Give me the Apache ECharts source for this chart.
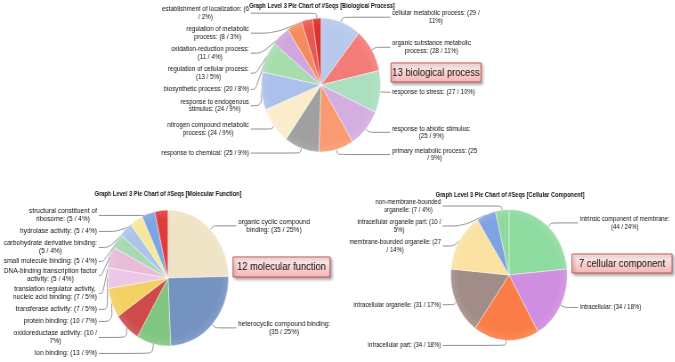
<!DOCTYPE html>
<html>
<head>
<meta charset="utf-8">
<script src="https://cdn.jsdelivr.net/npm/echarts@6/dist/echarts.min.js"></script>
<style>
html, body { margin: 0; padding: 0; background: #fff; overflow: hidden; }
/* The source image is squeezed horizontally (its pies are ellipses), so the
   chart is drawn wider and scaled back to 675px. */
#chart { width: 758px; height: 362px; transform: scaleX(0.89); transform-origin: 0 0; }
</style>
</head>
<body>
<div id="chart"></div>
<script>
// Biological process (top chart), clockwise from 12 o'clock
const bpNames = [
	'cellular metabolic process', 'organic substance metabolic process', 'response to stress',
	'response to abiotic stimulus', 'primary metabolic process', 'response to chemical',
	'nitrogen compound metabolic process', 'response to endogenous stimulus', 'biosynthetic process',
	'regulation of cellular process', 'oxidation-reduction process', 'regulation of metabolic process',
	'establishment of localization'
];
const bpValues = [ 29, 28, 27, 25, 25, 25, 24, 24, 20, 13, 11, 8, 6 ];

// Molecular function (bottom left)
const mfNames = [
	'organic cyclic compound binding', 'heterocyclic compound binding', 'Ion binding',
	'oxidoreductase activity', 'protein binding', 'transferase activity',
	'translation regulator activity, nucleic acid binding', 'DNA-binding transcription factor activity',
	'small molecule binding', 'carbohydrate derivative binding', 'hydrolase activity',
	'structural constituent of ribosome'
];
const mfValues = [ 35, 35, 13, 10, 10, 7, 7, 5, 5, 5, 5, 5 ];

// Cellular component (bottom right)
const ccNames = [
	'intrinsic component of membrane', 'intracellular', 'intracellular part',
	'intracellular organelle', 'membrane-bounded organelle', 'intracellular organelle part',
	'non-membrane-bounded organelle'
];
const ccValues = [ 44, 34, 34, 31, 27, 10, 7 ];

const bpColors = [ '#b7c9ec', '#f47c78', '#acdfc0', '#d4aee0', '#f99a70', '#a0a0a0', '#fbeccb',
	'#abc0ea', '#a7dcad', '#d0a6dc', '#f58a5e', '#ec5750', '#d8332e' ];
const mfColors = [ '#efe3c5', '#7593c0', '#80c580', '#cf4b4b', '#f3d062', '#eec6e8', '#e8bcd8',
	'#a6d9b4', '#aec3ea', '#f6e89a', '#7ea4e2', '#e03c3c' ];
const ccColors = [ '#8edba0', '#d08ee0', '#fa7d48', '#a28c88', '#fbe2a3', '#7fa2e3', '#8fd99f' ];

const SX = 0.89; // horizontal squeeze of the page
const sx = ( x ) => x / SX;
const FONT = '\'Liberation Sans\', Arial, sans-serif';
const TEXT_COLOR = '#111';
const measureCtx = document.createElement( 'canvas' ).getContext( '2d' );

/**
 * Word-wraps a label the way Excel does, by measured width.
 *
 * @param {string} text
 * @param {number} fontSize
 * @param {number} maxWidth
 * @return {string[]}
 */
const wrapLabel = ( text, fontSize, maxWidth ) => {
	measureCtx.font = fontSize + 'px ' + FONT;
	const lines = [];
	let line = '';
	text.split( ' ' ).forEach( ( word ) => {
		const next = line ? line + ' ' + word : word;
		if ( line && measureCtx.measureText( next ).width > maxWidth ) {
			lines.push( line );
			line = word;
		} else {
			line = next;
		}
	} );
	lines.push( line );
	return lines;
};

const pieSeries = ( names, values, colors, opt ) => {
	const cx = opt.left + opt.center[ 0 ];
	const cy = opt.top + opt.center[ 1 ];
	return {
		type: 'pie',
		left: opt.left,
		top: opt.top,
		width: opt.width,
		height: opt.height,
		center: opt.center,
		radius: opt.radius,
		startAngle: 90,
		clockwise: true,
		avoidLabelOverlap: true,
		animation: false,
		emphasis: { disabled: true },
		data: names.map( ( name, i ) => ( {
			name,
			value: values[ i ],
			itemStyle: {
				color: {
					type: 'radial',
					x: cx,
					y: cy,
					r: opt.radius,
					global: true,
					colorStops: [
						{ offset: 0, color: colors[ i ] },
						{ offset: 0.86, color: colors[ i ] },
						{ offset: 1, color: echarts.color.lift( colors[ i ], 0.12 ) }
					]
				}
			}
		} ) ),
		itemStyle: {
			borderColor: 'rgba(255,255,255,0.75)',
			borderWidth: 0.6
		},
		label: {
			show: true,
			position: 'outside',
			bleedMargin: 0,
			distanceToLabelLine: 2,
			overflow: 'none',
			padding: opt.padding,
			fontSize: opt.fontSize,
			fontFamily: FONT,
			lineHeight: opt.lineHeight,
			color: TEXT_COLOR,
			formatter: ( p ) => wrapLabel(
				p.name + ': (' + p.value + ' / ' + Math.round( p.percent ) + '%)',
				opt.fontSize,
				opt.wrapEm * opt.fontSize
			).map( ( l ) => '{c|' + l + '}' ).join( '\n' ),
			rich: {
				c: {
					align: 'center',
					fontSize: opt.fontSize,
					fontFamily: FONT,
					lineHeight: opt.lineHeight,
					color: TEXT_COLOR
				}
			}
		},
		labelLine: {
			show: true,
			length: 5,
			length2: 4,
			smooth: 0.3,
			lineStyle: { color: '#6f6f6f', width: 0.8 }
		},
		// Excel lines the label blocks up in two columns beside the pie
		labelLayout: ( p ) => {
			const pts = p.labelLinePoints;
			if ( !pts ) {
				return {};
			}
			const onLeft = pts[ 2 ][ 0 ] < cx;
			const textX = sx( onLeft ? opt.textLeft : opt.textRight );
			const endX = onLeft ? textX + 2 : textX - 2;
			return {
				x: textX,
				align: onLeft ? 'right' : 'left',
				labelLinePoints: [ pts[ 0 ], pts[ 1 ], [ endX, pts[ 2 ][ 1 ] ] ]
			};
		}
	};
};

const titleOf = ( text, x, y ) => ( {
	text,
	left: sx( x ),
	top: y,
	textAlign: 'center',
	padding: 0,
	textStyle: { fontSize: 6.4, fontWeight: 'bold', fontFamily: FONT, color: TEXT_COLOR }
} );

const calloutBox = ( text, x, y, w, h ) => ( {
	type: 'group',
	x: sx( x ),
	y,
	children: [
		{
			type: 'rect',
			shape: { x: 0, y: 0, width: sx( w ), height: h },
			style: {
				fill: new echarts.graphic.LinearGradient( 0, 0, 0, 1, [
					{ offset: 0, color: '#fff4f4' },
					{ offset: 1, color: '#f4b4b4' }
				] ),
				stroke: '#c9504c',
				lineWidth: 1,
				shadowBlur: 3,
				shadowOffsetX: 2,
				shadowOffsetY: 2,
				shadowColor: 'rgba(0,0,0,0.35)'
			}
		},
		{
			type: 'text',
			x: sx( w ) / 2,
			y: h / 2 + 0.5,
			style: {
				text,
				align: 'center',
				verticalAlign: 'middle',
				fontSize: 10.5,
				fontFamily: FONT,
				fill: TEXT_COLOR
			}
		}
	]
} );

const chart = echarts.init( document.getElementById( 'chart' ), null, { renderer: 'canvas' } );

chart.setOption( {
	backgroundColor: '#fff',
	animation: false,
	title: [
		titleOf( 'Graph Level 3 Pie Chart of #Seqs [Biological Process]', 322, 3 ),
		titleOf( 'Graph Level 3 Pie Chart of #Seqs [Molecular Function]', 168, 191 ),
		titleOf( 'Graph Level 3 Pie Chart of #Seqs [Cellular Component]', 510, 192 )
	],
	series: [
		pieSeries( bpNames, bpValues, bpColors, {
			left: 0, top: 0, width: 758, height: 172,
			center: [ sx( 321 ), 85 ], radius: 67,
			fontSize: 7, lineHeight: 7.5, wrapEm: 14.1, padding: [ 1.5, 0 ],
			textLeft: 249, textRight: 392
		} ),
		pieSeries( mfNames, mfValues, mfColors, {
			left: 0, top: 204, width: 380, height: 158,
			center: [ sx( 168 ), 74 ], radius: 68,
			fontSize: 7.4, lineHeight: 8, wrapEm: 14.45, padding: [ 2, 0 ],
			textLeft: 97, textRight: 238
		} ),
		pieSeries( ccNames, ccValues, ccColors, {
			left: 376, top: 196, width: 382, height: 166,
			center: [ sx( 509 ) - 376, 79 ], radius: 65.5,
			fontSize: 6.7, lineHeight: 8, wrapEm: 15.5, padding: [ 1, 0 ],
			textLeft: 441, textRight: 580
		} )
	],
	graphic: [
		calloutBox( bpNames.length + ' biological process', 391, 63, 90, 19 ),
		calloutBox( mfNames.length + ' molecular function', 233, 257, 97, 20 ),
		calloutBox( ccNames.length + ' cellular component', 572, 254, 100, 19 )
	]
} );
</script>
</body>
</html>
